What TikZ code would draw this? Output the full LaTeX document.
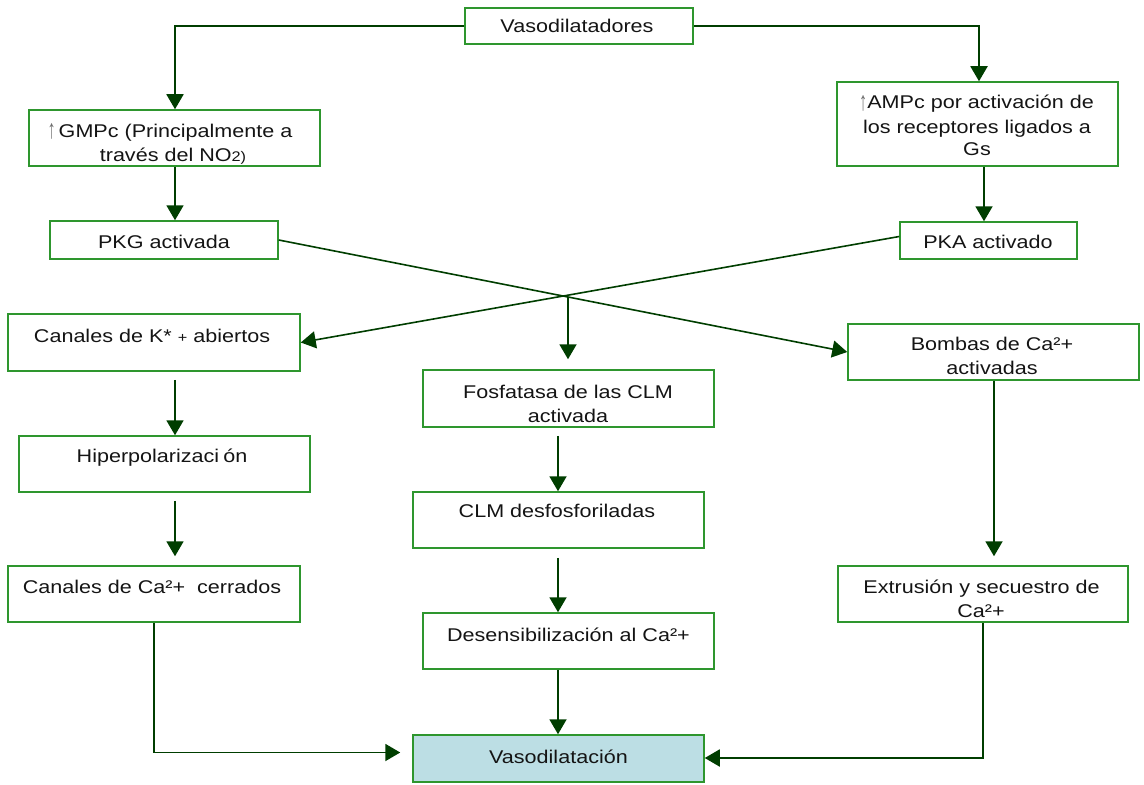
\documentclass[tikz,border=0pt]{standalone}
\usepackage{fontspec}
\usepackage{graphicx}
\setmainfont[FakeStretch=1.17]{Liberation Sans}
\usetikzlibrary{arrows.meta,calc}
\definecolor{boxgreen}{RGB}{46,150,46}
\definecolor{arrowgreen}{RGB}{0,62,0}
\definecolor{resultfill}{RGB}{188,222,228}
\definecolor{uparrow}{RGB}{110,110,110}
\newcommand{\smallpart}[1]{{\fontsize{14}{14}\selectfont #1}}
\newcommand{\uparr}{{\color{uparrow}\raisebox{-1.5bp}{\scalebox{0.75}[1.45]{↑}}}}
\tikzset{
  stepbox/.style={draw=boxgreen, line width=1.5bp, rectangle, inner sep=0pt},
  txt/.style={font=\fontsize{18.5}{23}\selectfont, text=black!92, inner sep=0pt, anchor=base},
  flow/.style={draw=arrowgreen, line width=1.9bp, -{Triangle[length=15bp,width=17bp]}},
}
\begin{document}
\begin{tikzpicture}[x=1bp,y=-1bp]
\useasboundingbox (0,0) rectangle (1144,785);

% boxes
\node[stepbox, minimum width=228bp, minimum height=36bp] (vd)   at (579,26) {};
\node[stepbox, minimum width=291bp, minimum height=56bp] (gmpc) at (174.5,138) {};
\node[stepbox, minimum width=228bp, minimum height=38bp] (pkg)  at (164,240) {};
\node[stepbox, minimum width=281bp, minimum height=84bp] (ampc) at (977.5,124) {};
\node[stepbox, minimum width=177bp, minimum height=37bp] (pka)  at (988.5,240.5) {};
\node[stepbox, minimum width=292bp, minimum height=57bp] (k)    at (154,342.5) {};
\node[stepbox, minimum width=291bp, minimum height=56bp] (hip)  at (164.5,464) {};
\node[stepbox, minimum width=292bp, minimum height=56bp] (cac)  at (154,594) {};
\node[stepbox, minimum width=291bp, minimum height=57bp] (fos)  at (568.5,398.5) {};
\node[stepbox, minimum width=291bp, minimum height=56bp] (clm)  at (558.5,520) {};
\node[stepbox, minimum width=291bp, minimum height=56bp] (des)  at (568.5,641) {};
\node[stepbox, minimum width=291bp, minimum height=56bp] (bom)  at (993.5,352) {};
\node[stepbox, minimum width=290bp, minimum height=56bp] (ext)  at (983,594) {};
\node[stepbox, fill=resultfill, minimum width=291bp, minimum height=47bp] (vdn) at (558.5,758.5) {};

% texts
\node[txt] (vd-t)    at (577,33)    {Vasodilatadores};
\node[txt] (gmpc-t1) at (170,137)   {\uparr\,GMPc (Principalmente a};
\node[txt] (gmpc-t2) at (173,161)   {través del NO\smallpart{2)}};
\node[txt] (pkg-t)   at (164,248)   {PKG activada};
\node[txt] (ampc-t1) at (976.5,109) {\uparr AMPc por activación de};
\node[txt] (ampc-t2) at (977,133)   {los receptores ligados a};
\node[txt] (ampc-t3) at (977,155)   {Gs};
\node[txt] (pka-t)   at (988,248)   {PKA activado};
\node[txt] (k-t)     at (152,342)   {Canales de K* \smallpart{+} abiertos};
\node[txt] (hip-t)   at (162,462)   {Hiperpolarizaci\kern4bp ón};
\node[txt] (cac-t)   at (152,593)   {Canales de Ca²+\ \ cerrados};
\node[txt] (fos-t1)  at (568,398)   {Fosfatasa de las CLM};
\node[txt] (fos-t2)  at (568,422)   {activada};
\node[txt] (clm-t)   at (557,517)   {CLM desfosforiladas};
\node[txt] (des-t)   at (568.5,641) {Desensibilización al Ca²+};
\node[txt] (bom-t1)  at (992,350)   {Bombas de Ca²+};
\node[txt] (bom-t2)  at (992,374)   {activadas};
\node[txt] (ext-t1)  at (981.5,593) {Extrusión y secuestro de};
\node[txt] (ext-t2)  at (981,617)   {Ca²+};
\node[txt] (vdn-t)   at (558.5,763) {Vasodilatación};

% connector columns
\coordinate (lcol) at ([xshift=0.5bp]gmpc.north);
\coordinate (mcol) at ([xshift=-0.5bp]clm.north);
\coordinate (rcol) at ([xshift=0.5bp]bom.south);

% connectors
\draw[flow] (vd.west) -| (lcol);
\draw[flow] (vd.east) -| ([xshift=1.5bp]ampc.north);
\draw[flow] (lcol |- gmpc.south) -- (lcol |- pkg.north);
\draw[flow] ([xshift=6.5bp]ampc.south) -- ([xshift=6.5bp]ampc.south |- pka.north);
\draw[flow, line width=1.6bp] (pkg.east) -- (bom.west);
\draw[flow, line width=1.6bp] ([yshift=4bp]pka.west) -- (k.east);
\coordinate (cross) at ($(pkg.east)!0.5088!(bom.west)$);
\draw[flow, shorten >=10bp] (cross) -- (cross |- fos.north);
\draw[flow, shorten <=8bp] ([xshift=21bp]k.south) -- ([xshift=21bp]k.south |- hip.north);
\draw[flow, shorten <=8bp, shorten >=9bp] ([xshift=10.5bp]hip.south) -- ([xshift=10.5bp]hip.south |- cac.north);
\draw[flow, shorten <=8bp] (mcol |- fos.south) -- (mcol);
\draw[flow, shorten <=9bp] (mcol |- clm.south) -- (mcol |- des.north);
\draw[flow] (mcol |- des.south) -- (mcol |- vdn.north);
\draw[flow, shorten >=9bp] (rcol) -- (rcol |- ext.north);
\draw[flow] (cac.south) |- ([xshift=-12bp,yshift=6bp]vdn.west);
\draw[flow] (ext.south) |- ([yshift=0.5bp]vdn.east);
\end{tikzpicture}
\end{document}
